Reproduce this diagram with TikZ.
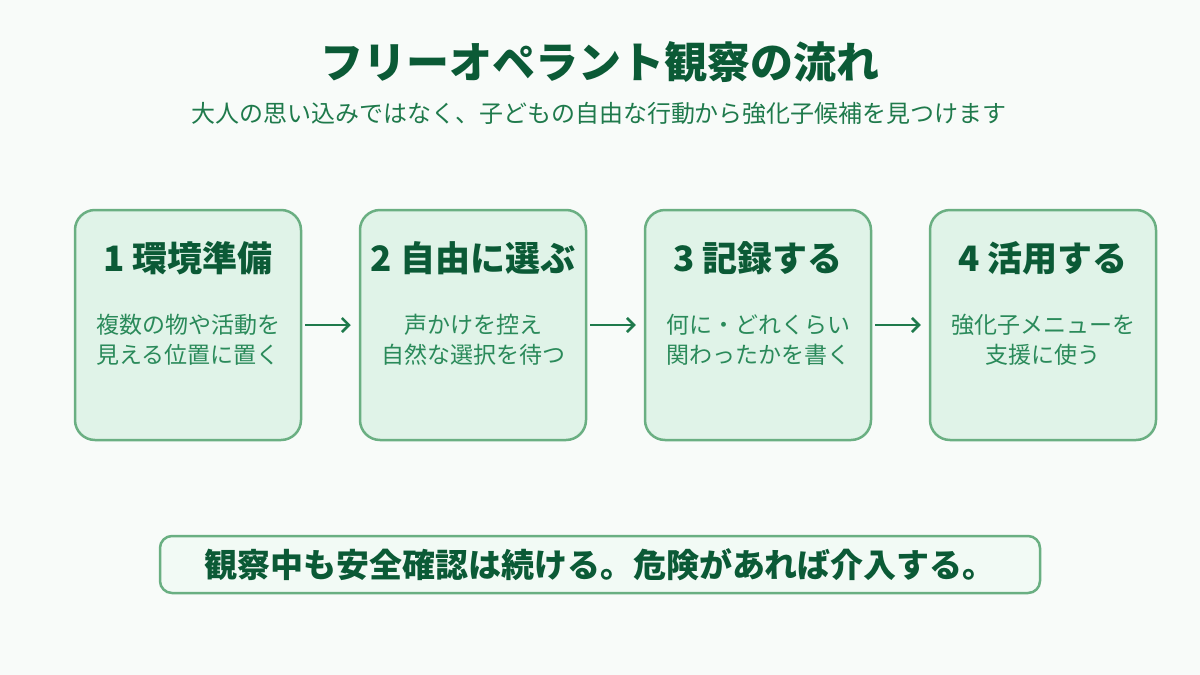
\documentclass[tikz,border=0pt]{standalone}
\usepackage{fontspec}
\setmainfont{Noto Sans CJK JP}
\usetikzlibrary{arrows.meta}
\definecolor{bg}{HTML}{F8FBF9}
\definecolor{titlec}{HTML}{0B5A36}
\definecolor{subc}{HTML}{1F7A4C}
\definecolor{bodyc}{HTML}{2A8A5A}
\definecolor{boxfill}{HTML}{E0F3E8}
\definecolor{boxdraw}{HTML}{6AAF82}
\definecolor{notefill}{HTML}{F2FAF5}
\definecolor{arrowc}{HTML}{1F7A4C}
\tikzset{
  stepbox/.style={draw=boxdraw, line width=2.5pt, fill=boxfill, rounded corners=20pt, minimum width=226pt, minimum height=230pt, inner sep=0pt},
  head/.style={font=\fontsize{35}{40}\selectfont\bfseries, text=titlec, inner sep=0pt},
  body/.style={font=\fontsize{23}{30}\selectfont, text=bodyc, align=center, inner sep=0pt},
  flow/.style={draw=arrowc, line width=2.5pt, -{Straight Barb[length=7pt,width=14pt,line width=2.5pt]}},
}
\begin{document}
\begin{tikzpicture}[x=1pt,y=-1pt]
\useasboundingbox (0,0) rectangle (1200,675);
\fill[bg] (0,0) rectangle (1200,675);
\node[font=\fontsize{43}{48}\selectfont\bfseries, text=titlec, inner sep=0pt] (title) at (600,62) {フリーオペラント観察の流れ};
\node[font=\fontsize{24}{28}\selectfont, text=subc, inner sep=0pt] (sub) at (599,113) {大人の思い込みではなく、子どもの自由な行動から強化子候補を見つけます};

\node[stepbox] (b1) at (188,325) {};
\node[stepbox] (b2) at (473,325) {};
\node[stepbox] (b3) at (758,325) {};
\node[stepbox] (b4) at (1043,325) {};

\node[head] (h1) at (188,258) {1 環境準備};
\node[head] (h2) at (473,258) {2 自由に選ぶ};
\node[head] (h3) at (758,258) {3 記録する};
\node[head] (h4) at (1043,258) {4 活用する};

\node[body] (t1) at (188,340) {複数の物や活動を\\見える位置に置く};
\node[body] (t2) at (473,340) {声かけを控え\\自然な選択を待つ};
\node[body] (t3) at (758,340) {何に・どれくらい\\関わったかを書く};
\node[body] (t4) at (1043,340) {強化子メニューを\\支援に使う};

\draw[flow] ([xshift=3pt]b1.east) -- ([xshift=-8pt]b2.west);
\draw[flow] ([xshift=3pt]b2.east) -- ([xshift=-8pt]b3.west);
\draw[flow] ([xshift=3pt]b3.east) -- ([xshift=-8pt]b4.west);

\node[draw=boxdraw, line width=2.5pt, fill=notefill, rounded corners=12pt, minimum width=880pt, minimum height=57pt, inner sep=0pt] (note) at (600,564.5) {};
\node[font=\fontsize{33}{38}\selectfont\bfseries, text=titlec, inner sep=0pt] (notet) at (600,565) {観察中も安全確認は続ける。危険があれば介入する。};
\end{tikzpicture}
\end{document}
